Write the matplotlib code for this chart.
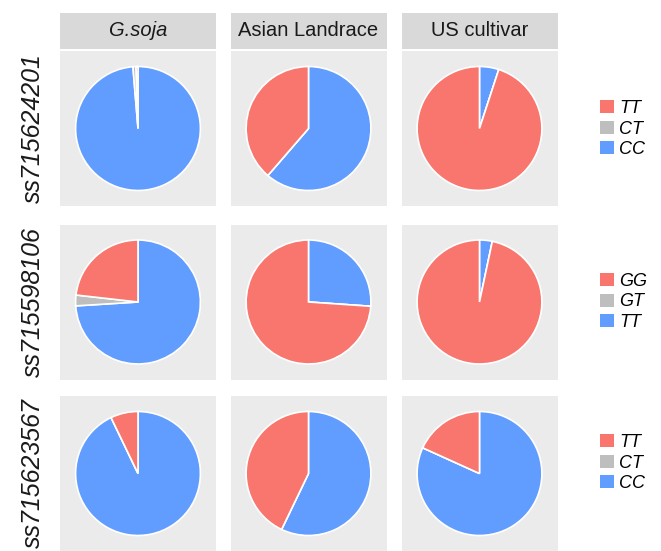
import matplotlib.pyplot as plt
from matplotlib.patches import Patch

# genotype frequencies per SNP (rows) and germplasm group (columns)
snps = ["ss715624201", "ss715598106", "ss715623567"]
groups = ["G.soja", "Asian Landrace", "US cultivar"]
genotypes = [["TT", "CT", "CC"], ["GG", "GT", "TT"], ["TT", "CT", "CC"]]

hom_ref = [[0.005, 0.387, 0.950],
           [0.232, 0.739, 0.967],
           [0.071, 0.429, 0.182]]
het = [[0.008, 0.0, 0.0],
       [0.028, 0.0, 0.0],
       [0.0, 0.0, 0.0]]
hom_alt = [[0.987, 0.613, 0.050],
           [0.740, 0.261, 0.033],
           [0.929, 0.571, 0.818]]

RED = "#F8766D"
GREY = "#BEBEBE"
BLUE = "#619CFF"
PANEL = "#EBEBEB"
STRIP = "#D9D9D9"

W, H = 661, 551
plt.rcParams["font.family"] = ["Liberation Sans", "DejaVu Sans"]

fig = plt.figure(figsize=(W / 100, H / 100), dpi=100)


def px_axes(left, top, width, height):
    # axes placed in pixel units measured from the top-left corner
    return fig.add_axes([left / W, 1 - (top + height) / H, width / W, height / H])


def bare(ax, color):
    ax.set_frame_on(True)
    ax.set_facecolor(color)
    ax.set_xticks([])
    ax.set_yticks([])
    for s in ax.spines.values():
        s.set_visible(False)


col_left = [60, 230.5, 401.5]
row_top = [51, 224.5, 396]
pw, ph = 156, 155
legend_mid = [129, 302, 463]

# facet strips
for j, g in enumerate(groups):
    sax = px_axes(col_left[j], 12.5, pw, 36)
    bare(sax, STRIP)
    sax.text(0.5, 0.5, g, ha="center", va="center", fontsize=14.5,
             style="italic" if j == 0 else "normal", color="#1A1A1A",
             transform=sax.transAxes)

for i, snp in enumerate(snps):
    for j in range(len(groups)):
        ax = px_axes(col_left[j], row_top[i], pw, ph)
        vals = [hom_alt[i][j], het[i][j], hom_ref[i][j]]
        ax.pie(vals, colors=[BLUE, GREY, RED], startangle=90,
               counterclock=False, radius=0.8, normalize=True,
               wedgeprops=dict(edgecolor="white", linewidth=1.2))
        ax.set_xlim(-1, 1)
        ax.set_ylim(-1, 1)
        ax.set_aspect("auto")
        bare(ax, PANEL)

    # row label on the left
    fig.text(33 / W, 1 - (row_top[i] + ph / 2) / H, snp, rotation=90,
             ha="center", va="center", fontsize=18, style="italic",
             color="#1A1A1A")

    handles = [Patch(facecolor=c, edgecolor="none") for c in (RED, GREY, BLUE)]
    fig.legend(handles, genotypes[i], loc="center left",
               bbox_to_anchor=(600 / W, 1 - legend_mid[i] / H),
               frameon=False, borderpad=0, borderaxespad=0,
               handlelength=0.75, handleheight=0.75, handletextpad=0.3,
               labelspacing=0.2, prop=dict(size=13, style="italic"))

fig.savefig("out.png", dpi=100, facecolor="white")
